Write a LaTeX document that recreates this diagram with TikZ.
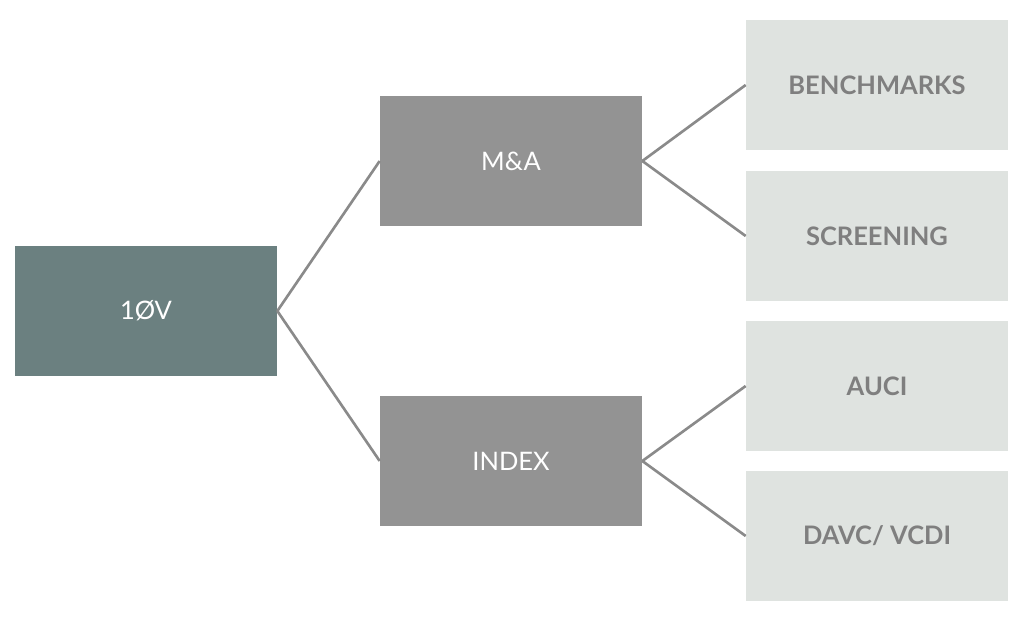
\documentclass[tikz,border=0pt]{standalone}
\usepackage{fontspec}
\setmainfont{Lato}
\definecolor{rootc}{HTML}{6B8080}
\definecolor{midc}{HTML}{939393}
\definecolor{leafc}{HTML}{DFE3E0}
\definecolor{leaftext}{HTML}{7F7F7F}
\definecolor{linec}{HTML}{8A8A8A}
\begin{document}
\begin{tikzpicture}[
    x=0.02cm, y=-0.02cm,
    box/.style={draw=none, inner sep=0, minimum width=5.24cm, minimum height=2.62cm,
      font=\fontsize{14.5}{17}\selectfont},
    root/.style={box, fill=rootc, text=white},
    inner/.style={box, fill=midc, text=white},
    leaf/.style={box, fill=leafc, text=leaftext, font=\fontsize{14.5}{17}\selectfont\bfseries},
    link/.style={-, draw=linec, line width=1.5pt}
  ]
  \useasboundingbox (0,0) rectangle (1024,622);
  \node[root] (ov) at (146,311) {1ØV};
  \node[inner] (ma) at (511,161) {M\&A};
  \node[inner] (idx) at (511,461) {INDEX};
  \node[leaf] (bench) at (877,85) {BENCHMARKS};
  \node[leaf] (scr) at (877,236) {SCREENING};
  \node[leaf] (auci) at (877,386) {AUCI};
  \node[leaf] (davc) at (877,536) {DAVC/ VCDI};
  % connectors
  \draw[link] (ov.east) -- (ma.west);
  \draw[link] (ov.east) -- (idx.west);
  \draw[link] (ma.east) -- (bench.west);
  \draw[link] (ma.east) -- (scr.west);
  \draw[link] (idx.east) -- (auci.west);
  \draw[link] (idx.east) -- (davc.west);
\end{tikzpicture}
\end{document}
